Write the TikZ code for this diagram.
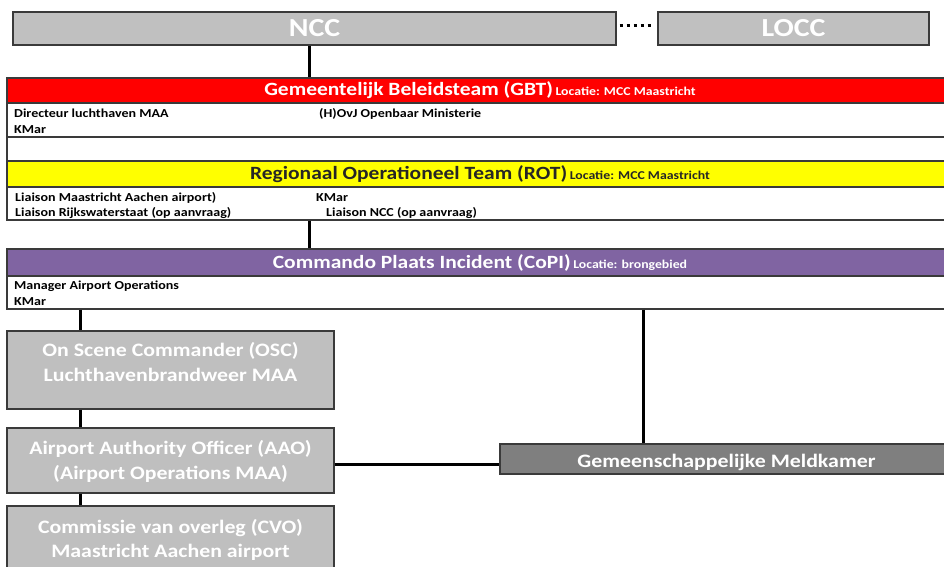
\documentclass[tikz,border=0pt]{standalone}
\usepackage{fontspec}
\setmainfont{Carlito}[FakeStretch=1.15]
\definecolor{boxgray}{HTML}{BFBFBF}
\definecolor{topgray}{HTML}{C0C0C0}
\definecolor{gmgray}{HTML}{7F7F7F}
\definecolor{gbtred}{HTML}{FF0000}
\definecolor{rotyellow}{HTML}{FFFF00}
\definecolor{copipurple}{HTML}{8064A2}
\definecolor{edge}{HTML}{3A3A3A}
\begin{document}
\begin{tikzpicture}[x=1pt,y=-1pt,
  gbox/.style={draw=edge, line width=1.4pt, fill=boxgray, inner sep=0pt},
  framebox/.style={draw=edge, line width=1.4pt, inner sep=0pt},
  barbox/.style={draw=edge, line width=1.4pt, inner sep=0pt},
  conn/.style={line width=3pt, black},
  bodytxt/.style={anchor=base west, inner sep=0pt, font=\bfseries\fontsize{12.2}{14}\selectfont},
  boxtxt/.style={anchor=base, inner sep=0pt, text=white, font=\bfseries\fontsize{19}{24}\selectfont},
  headtxt/.style={inner sep=0pt},
]
\useasboundingbox (0,0) rectangle (944,566);
\clip (0,0) rectangle (944,566);

% top row
\node[gbox, fill=topgray, minimum width=603pt, minimum height=33pt] (ncc) at (314.5,28.5) {};
\node[inner sep=0pt, text=white, font=\bfseries\fontsize{26}{30}\selectfont] (ncct) at (ncc.center) {NCC};
\node[gbox, fill=topgray, minimum width=271pt, minimum height=33pt] (locc) at (793.5,28.5) {};
\node[inner sep=0pt, text=white, font=\bfseries\fontsize{26}{30}\selectfont] (locct) at (locc.center) {LOCC};
\draw[line width=3pt, dash pattern=on 3pt off 4pt] ([xshift=3pt,yshift=3.5pt]ncc.east) -- ([xshift=-3pt,yshift=3.5pt]locc.west);

% GBT
\node[framebox, minimum width=946pt, minimum height=83pt] (gbt) at (480,119.5) {};
\node[barbox, fill=gbtred, minimum width=946pt, minimum height=25pt] (gbtbar) at (480,90.5) {};
\node[headtxt, text=white] (gbtt) at (gbtbar.center) {{\bfseries\fontsize{18.7}{22}\selectfont Gemeentelijk Beleidsteam (GBT)} {\bfseries\fontsize{12}{13}\selectfont Locatie: MCC Maastricht}};
\draw[draw=edge, line width=2pt] (gbt.west |- 0,137) -- (gbt.east |- 0,137);
\node[bodytxt] (g1) at (14,117) {Directeur luchthaven MAA};
\node[bodytxt] (g2) at (319,117) {(H)OvJ Openbaar Ministerie};
\node[bodytxt] (g3) at (14,133) {KMar};

% ROT
\node[framebox, minimum width=946pt, minimum height=59pt] (rot) at (480,190.5) {};
\node[barbox, fill=rotyellow, minimum width=946pt, minimum height=26pt] (rotbar) at (480,174) {};
\node[headtxt, text=black!85] (rott) at (rotbar.center) {{\bfseries\fontsize{18.7}{22}\selectfont Regionaal Operationeel Team (ROT)} {\bfseries\fontsize{12}{13}\selectfont Locatie: MCC Maastricht}};
\node[bodytxt] (r1) at (15,201) {Liaison Maastricht Aachen airport)};
\node[bodytxt] (r2) at (316,201) {KMar};
\node[bodytxt] (r3) at (15,216) {Liaison Rijkswaterstaat (op aanvraag)};
\node[bodytxt] (r4) at (326,216) {Liaison NCC (op aanvraag)};

% CoPI
\node[framebox, minimum width=946pt, minimum height=60pt] (copi) at (480,279) {};
\node[barbox, fill=copipurple, minimum width=946pt, minimum height=27pt] (copibar) at (480,262.5) {};
\node[headtxt, text=white] (copit) at (copibar.center) {{\bfseries\fontsize{18.7}{22}\selectfont Commando Plaats Incident (CoPI)} {\bfseries\fontsize{12}{13}\selectfont Locatie: brongebied}};
\node[bodytxt] (c1) at (14,289) {Manager Airport Operations};
\node[bodytxt] (c2) at (14,305) {KMar};

% lower boxes
\node[gbox, minimum width=327pt, minimum height=78pt] (osc) at (170.5,370) {};
\node[boxtxt] (osc1) at (170.5,356) {On Scene Commander (OSC)};
\node[boxtxt] (osc2) at (170.5,381) {Luchthavenbrandweer MAA};
\node[gbox, minimum width=327pt, minimum height=65pt] (aao) at (170.5,460.5) {};
\node[boxtxt] (aao1) at (170.5,454) {Airport Authority Officer (AAO)};
\node[boxtxt] (aao2) at (170.5,479) {(Airport Operations MAA)};
\node[gbox, minimum width=327pt, minimum height=74pt] (cvo) at (170.5,543) {};
\node[boxtxt] (cvo1) at (170.5,533) {Commissie van overleg (CVO)};
\node[boxtxt] (cvo2) at (170.5,557) {Maastricht Aachen airport};
\node[gbox, fill=gmgray, minimum width=453pt, minimum height=30pt] (gm) at (726.5,459) {};
\node[boxtxt] (gmt) at (726.5,467) {Gemeenschappelijke Meldkamer};

% connectors
\draw[conn] ([xshift=-5.5pt]ncc.south) -- ([xshift=-5.5pt]ncc.south |- gbt.north);
\draw[conn] (rot.south -| 309,0) -- (copi.north -| 309,0);
\draw[conn] (copi.south -| 80,0) -- (osc.north -| 80,0);
\draw[conn] (copi.south -| 643,0) -- (gm.north -| 643,0);
\draw[conn] (osc.south -| 80,0) -- (aao.north -| 80,0);
\draw[conn] (aao.south -| 80,0) -- (cvo.north -| 80,0);
\draw[conn] ([yshift=-3.5pt]aao.east) -- ([yshift=-3.5pt]aao.east -| gm.west);
\end{tikzpicture}
\end{document}
